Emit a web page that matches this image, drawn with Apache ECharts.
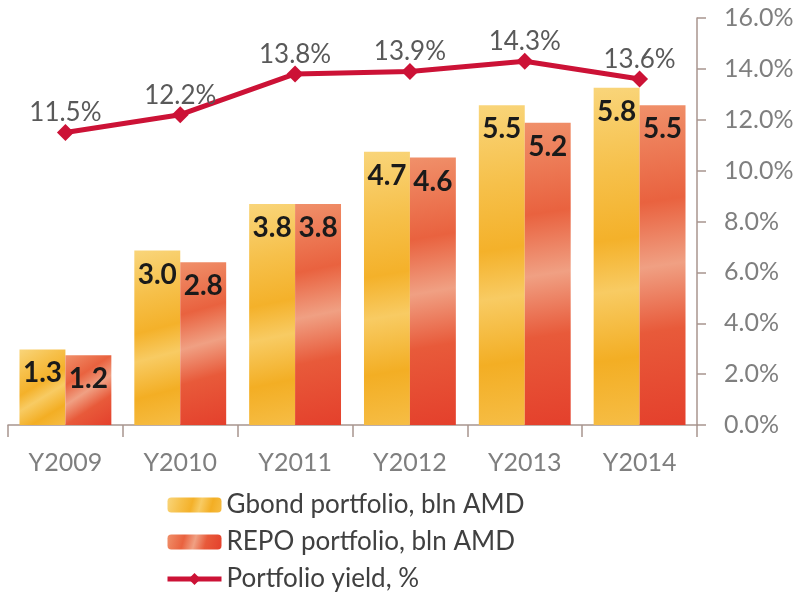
<!DOCTYPE html>
<html>
<head>
<meta charset="utf-8">
<script src="https://cdn.jsdelivr.net/npm/echarts@6/dist/echarts.min.js"></script>
<style>
  html, body { margin: 0; padding: 0; background: #fff; }
  #chart { width: 800px; height: 596px; }
</style>
</head>
<body>
<div id="chart"></div>
<script>
// data
const years = ["Y2009", "Y2010", "Y2011", "Y2012", "Y2013", "Y2014"];
const gbond = [1.3, 3.0, 3.8, 4.7, 5.5, 5.8];
const repo = [1.2, 2.8, 3.8, 4.6, 5.2, 5.5];
const yieldPct = [11.5, 12.2, 13.8, 13.9, 14.3, 13.6];

const font = "Lato";

// textured look is approximated with banded gradients
const gbondFill = new echarts.graphic.LinearGradient(0, 0, 1, 1, [
  { offset: 0, color: "#F9D57A" },
  { offset: 0.25, color: "#F6C04A" },
  { offset: 0.45, color: "#F4B12A" },
  { offset: 0.6, color: "#F8CB63" },
  { offset: 0.8, color: "#F3AE24" },
  { offset: 1, color: "#F6BD45" }
]);
const repoFill = new echarts.graphic.LinearGradient(0, 0, 1, 1, [
  { offset: 0, color: "#F0906A" },
  { offset: 0.3, color: "#E9623F" },
  { offset: 0.5, color: "#F0A083" },
  { offset: 0.7, color: "#E85A3A" },
  { offset: 1, color: "#E4402C" }
]);

const chart = echarts.init(document.getElementById("chart"));
chart.setOption({
  animation: false,
  grid: { left: 8, right: 103, top: 18, bottom: 171 },
  legend: {
    orient: "vertical",
    left: 160,
    top: 487,
    height: 120,
    itemGap: 11,
    itemWidth: 54,
    itemHeight: 15,
    textStyle: { fontFamily: font, fontSize: 26, color: "#404040" },
    data: [
      "Gbond portfolio, bln AMD",
      "REPO portfolio, bln AMD",
      { name: "Portfolio yield, %", lineStyle: { width: 5 } }
    ]
  },
  xAxis: {
    type: "category",
    data: years,
    axisLine: { lineStyle: { color: "#A8958E", width: 1.5 } },
    axisTick: { show: true, length: 12, lineStyle: { color: "#A8958E", width: 1.5 } },
    axisLabel: { fontFamily: font, fontSize: 25, color: "#7F7F7F", margin: 25 }
  },
  yAxis: [
    { type: "value", min: 0, max: 7, show: false, splitLine: { show: false } },
    {
      type: "value",
      position: "right",
      min: 0,
      max: 16,
      interval: 2,
      axisLine: { show: true, lineStyle: { color: "#A8958E", width: 1.5 } },
      axisTick: { show: true, length: 9, lineStyle: { color: "#A8958E", width: 1.5 } },
      splitLine: { show: false },
      axisLabel: {
        fontFamily: font, fontSize: 25, color: "#7F7F7F", margin: 27,
        formatter: v => v.toFixed(1) + "%"
      }
    }
  ],
  series: [
    {
      name: "Gbond portfolio, bln AMD",
      type: "bar",
      yAxisIndex: 0,
      data: gbond,
      barGap: "0%",
      barCategoryGap: "20%",
      itemStyle: { color: gbondFill },
      label: {
        show: true, position: "insideTop", distance: 10,
        fontFamily: font, fontSize: 28, fontWeight: "bold", color: "#1a1a1a",
        formatter: p => p.value.toFixed(1)
      }
    },
    {
      name: "REPO portfolio, bln AMD",
      type: "bar",
      yAxisIndex: 0,
      data: repo,
      itemStyle: { color: repoFill },
      label: {
        show: true, position: "insideTop", distance: 10,
        fontFamily: font, fontSize: 28, fontWeight: "bold", color: "#1a1a1a",
        formatter: p => p.value.toFixed(1)
      }
    },
    {
      name: "Portfolio yield, %",
      type: "line",
      yAxisIndex: 1,
      data: yieldPct,
      symbol: "diamond",
      symbolSize: 17,
      lineStyle: { color: "#CC1236", width: 5 },
      itemStyle: { color: "#CC1236" },
      label: {
        show: true, position: "top", distance: -2,
        fontFamily: font, fontSize: 26, color: "#595959",
        formatter: p => p.value.toFixed(1) + "%"
      }
    }
  ]
});
</script>
</body>
</html>
